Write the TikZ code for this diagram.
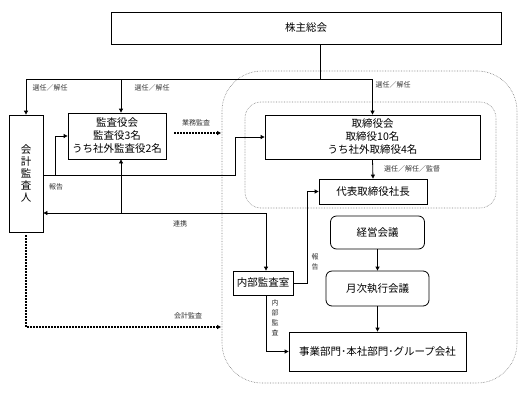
\documentclass[tikz,border=0pt]{standalone}
\usepackage{fontspec}
\setmainfont{Noto Sans CJK JP}
\usetikzlibrary{arrows.meta}

\begin{document}
\begin{tikzpicture}[x=1pt, y=-1pt,
  box/.style={draw, line width=0.8pt, inner sep=0pt, align=center,
              font=\fontsize{10.5}{13}\selectfont},
  rbox/.style={box, rounded corners=6pt},
  frame/.style={draw=gray, densely dotted, line width=0.6pt, inner sep=0pt},
  lbl/.style={font=\fontsize{7}{10}\selectfont, text=black!80, inner sep=0pt, align=center},
  arr/.style={->, line width=0.8pt, >={Triangle[length=4pt,width=4pt]}},
  darr/.style={arr, line width=1.3pt, dash pattern=on 1.3pt off 1.7pt}
]
  \useasboundingbox (0,0) rectangle (527,394);

  % frames
  \node[frame, rounded corners=40pt, minimum width=295pt, minimum height=312pt] (group) at (369.5,227) {};
  \node[frame, rounded corners=16pt, minimum width=251pt, minimum height=106pt] (board) at (370.5,155) {};

  % boxes
  \node[box, minimum width=390pt, minimum height=32pt] (soukai) at (306,28) {株主総会};
  \node[box, minimum width=34pt, minimum height=117pt, font=\fontsize{10.5}{12}\selectfont] (kaikei) at (26,173.5) {会\\計\\監\\査\\人};
  \node[box, minimum width=98pt, minimum height=46pt] (kansa) at (117,136) {監査役会\\監査役3名\\うち社外監査役2名};
  \node[box, minimum width=215pt, minimum height=44pt] (torishimari) at (372.5,137) {取締役会\\取締役10名\\うち社外取締役4名};
  \node[box, minimum width=108pt, minimum height=25pt] (shacho) at (373,191.5) {代表取締役社長};
  \node[rbox, minimum width=94pt, minimum height=33pt] (keiei) at (377.5,232.5) {経営会議};
  \node[rbox, minimum width=103pt, minimum height=35pt] (getsuji) at (377.5,288.5) {月次執行会議};
  \node[box, minimum width=60pt, minimum height=24pt] (naibu) at (263,283) {内部監査室};
  \node[box, minimum width=177pt, minimum height=39pt] (jigyo) at (377.5,351.5) {事業部門･本社部門･グループ会社};

  % points
  \coordinate (bus) at (320,79);
  \coordinate (kbus) at (121,79);
  \coordinate (rep) at (235,175);
  \coordinate (rep2) at (55,175);
  \coordinate (renkei) at (266,213);
  \coordinate (renA) at (121,213);
  \coordinate (hk) at (307,283);
  \coordinate (gyomu) at (221,133);
  \coordinate (kk) at (221,327);

  % connectors
  \draw[line width=0.8pt] (soukai.south -| bus) -- (bus);
  \draw[arr] (bus) -| (kaikei.north);
  \draw[arr] (bus) -| (torishimari.north);
  \draw[arr] (kbus) -- (kbus |- kansa.north);
  \draw[arr] (kaikei.east |- rep) -- (rep) |- (torishimari.west);
  \draw[arr] (rep2) |- (kansa.west);
  \draw[arr] (renA) -- (renA |- kansa.south);
  \draw[arr] (renkei) -- (kaikei.east |- renkei);
  \draw[arr] (renkei) -- (renkei |- naibu.north);
  \draw[arr] (torishimari.south) -- (shacho.north);
  \draw[arr] (naibu.east) -- (hk) |- (shacho.west);
  \draw[arr] (keiei) -- (getsuji);
  \draw[arr] (getsuji) -- (jigyo);
  \draw[arr] (renkei |- naibu.south) |- (jigyo.west);
  \draw[darr] (kansa.east |- gyomu) ++(8,0) -- (gyomu);
  \draw[darr] (kaikei.south) ++(0,3) |- (kk);

  % labels
  \node[lbl] (l1) at (50,88) {選任／解任};
  \node[lbl] (l2) at (152,88) {選任／解任};
  \node[lbl] (l3) at (393,85) {選任／解任};
  \node[lbl] (l4) at (196,123) {業務監査};
  \node[lbl] (l5) at (56,187) {報告};
  \node[lbl] (l6) at (180,224) {連携};
  \node[lbl] (l7) at (412,169) {選任／解任／監督};
  \node[lbl] (l8) at (315,262) {報\\告};
  \node[lbl] (l9) at (275,318) {内\\部\\監\\査};
  \node[lbl] (l10) at (188,316) {会計監査};
\end{tikzpicture}
\end{document}
